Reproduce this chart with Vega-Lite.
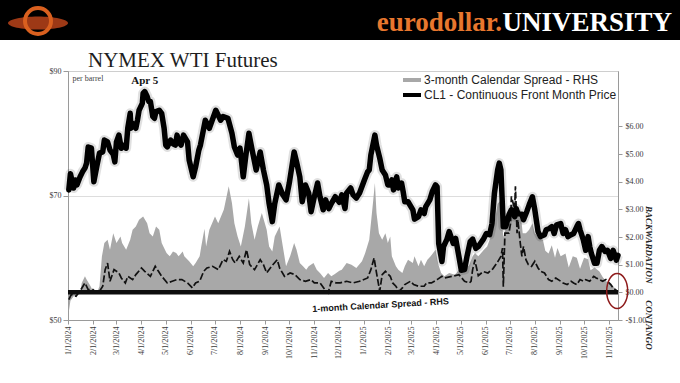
{
  "$schema": "https://vega.github.io/schema/vega-lite/v6.json",
  "padding": 0,
  "background": "white",
  "width": 550,
  "height": 249,
  "config": {
    "view": {"stroke": "#b5b5b5"},
    "axis": {"domainColor": "#9a9a9a", "tickColor": "#9a9a9a", "labelFont": "Liberation Serif", "labelFontSize": 8, "labelColor": "#3a3a3a", "labelOverlap": false}
  },
  "datasets": {
    "cl1": [
      {"date":"2024-01-02","price":70.9},{"date":"2024-01-04","price":73.5},{"date":"2024-01-08","price":71.2},{"date":"2024-01-10","price":72.5},{"date":"2024-01-12","price":71.7},{"date":"2024-01-16","price":73.0},{"date":"2024-01-19","price":73.8},{"date":"2024-01-22","price":74.4},{"date":"2024-01-24","price":75.2},{"date":"2024-01-26","price":77.8},{"date":"2024-01-30","price":77.6},
      {"date":"2024-02-02","price":72.2},{"date":"2024-02-06","price":74.9},{"date":"2024-02-09","price":76.8},{"date":"2024-02-13","price":77.0},{"date":"2024-02-15","price":78.9},{"date":"2024-02-19","price":78.6},{"date":"2024-02-22","price":77.3},{"date":"2024-02-26","price":76.6},{"date":"2024-02-28","price":75.4},
      {"date":"2024-03-01","price":78.6},{"date":"2024-03-04","price":79.7},{"date":"2024-03-07","price":77.6},{"date":"2024-03-11","price":78.1},{"date":"2024-03-13","price":77.6},{"date":"2024-03-15","price":80.8},{"date":"2024-03-18","price":83.2},{"date":"2024-03-19","price":80.8},{"date":"2024-03-21","price":81.6},{"date":"2024-03-25","price":80.8},{"date":"2024-03-27","price":82.1},{"date":"2024-03-29","price":83.7},
      {"date":"2024-04-02","price":84.8},{"date":"2024-04-03","price":86.4},{"date":"2024-04-05","price":86.7},{"date":"2024-04-08","price":85.9},{"date":"2024-04-10","price":85.1},{"date":"2024-04-12","price":85.1},{"date":"2024-04-15","price":82.7},{"date":"2024-04-17","price":82.4},{"date":"2024-04-19","price":83.5},{"date":"2024-04-23","price":83.7},{"date":"2024-04-26","price":83.2},{"date":"2024-04-29","price":80.8},
      {"date":"2024-05-01","price":78.1},{"date":"2024-05-03","price":77.8},{"date":"2024-05-07","price":78.9},{"date":"2024-05-10","price":78.3},{"date":"2024-05-13","price":78.1},{"date":"2024-05-15","price":79.7},{"date":"2024-05-17","price":78.6},{"date":"2024-05-20","price":78.1},{"date":"2024-05-23","price":79.7},{"date":"2024-05-28","price":78.6},{"date":"2024-05-30","price":75.7},
      {"date":"2024-06-04","price":73.0},{"date":"2024-06-07","price":74.6},{"date":"2024-06-11","price":77.3},{"date":"2024-06-13","price":78.1},{"date":"2024-06-19","price":82.1},{"date":"2024-06-24","price":80.8},
      {"date":"2024-07-02","price":83.7},{"date":"2024-07-08","price":82.1},{"date":"2024-07-11","price":82.7},{"date":"2024-07-17","price":82.4},{"date":"2024-07-22","price":80.0},{"date":"2024-07-25","price":77.8},{"date":"2024-07-29","price":76.5},
      {"date":"2024-08-01","price":77.6},{"date":"2024-08-05","price":73.0},{"date":"2024-08-08","price":76.2},{"date":"2024-08-12","price":80.0},{"date":"2024-08-16","price":77.3},{"date":"2024-08-21","price":74.1},{"date":"2024-08-26","price":77.0},{"date":"2024-08-30","price":74.1},
      {"date":"2024-09-03","price":71.7},{"date":"2024-09-06","price":68.7},{"date":"2024-09-10","price":65.8},{"date":"2024-09-13","price":68.7},{"date":"2024-09-18","price":71.7},{"date":"2024-09-23","price":70.1},{"date":"2024-09-27","price":69.3},
      {"date":"2024-10-01","price":72.0},{"date":"2024-10-07","price":77.0},{"date":"2024-10-10","price":75.4},{"date":"2024-10-14","price":73.0},{"date":"2024-10-17","price":69.0},{"date":"2024-10-21","price":71.7},{"date":"2024-10-25","price":70.4},{"date":"2024-10-28","price":67.4},
      {"date":"2024-11-01","price":69.8},{"date":"2024-11-05","price":72.0},{"date":"2024-11-08","price":69.8},{"date":"2024-11-12","price":67.7},{"date":"2024-11-15","price":69.3},{"date":"2024-11-19","price":67.9},{"date":"2024-11-22","price":68.7},{"date":"2024-11-27","price":69.8},
      {"date":"2024-12-02","price":68.9},{"date":"2024-12-05","price":70.1},{"date":"2024-12-09","price":67.9},{"date":"2024-12-11","price":70.4},{"date":"2024-12-16","price":71.2},{"date":"2024-12-19","price":70.1},{"date":"2024-12-23","price":69.6},{"date":"2024-12-27","price":70.4},
      {"date":"2025-01-02","price":72.5},{"date":"2025-01-06","price":73.8},{"date":"2025-01-08","price":74.1},{"date":"2025-01-10","price":76.5},{"date":"2025-01-15","price":79.7},{"date":"2025-01-17","price":78.1},{"date":"2025-01-21","price":76.0},{"date":"2025-01-24","price":74.1},{"date":"2025-01-28","price":73.3},{"date":"2025-01-31","price":71.7},
      {"date":"2025-02-03","price":71.7},{"date":"2025-02-05","price":72.5},{"date":"2025-02-07","price":70.9},{"date":"2025-02-11","price":73.0},{"date":"2025-02-13","price":71.2},{"date":"2025-02-17","price":72.0},{"date":"2025-02-19","price":70.6},{"date":"2025-02-21","price":69.0},{"date":"2025-02-25","price":69.0},
      {"date":"2025-03-03","price":67.7},{"date":"2025-03-05","price":66.2},{"date":"2025-03-10","price":66.6},{"date":"2025-03-13","price":67.7},{"date":"2025-03-17","price":67.1},{"date":"2025-03-19","price":68.2},{"date":"2025-03-24","price":69.3},{"date":"2025-03-27","price":70.6},{"date":"2025-03-31","price":71.7},
      {"date":"2025-04-02","price":71.4},{"date":"2025-04-04","price":62.3},{"date":"2025-04-08","price":59.4},{"date":"2025-04-10","price":61.8},{"date":"2025-04-14","price":62.9},{"date":"2025-04-17","price":64.2},{"date":"2025-04-22","price":62.3},{"date":"2025-04-25","price":63.1},{"date":"2025-04-29","price":60.2},
      {"date":"2025-05-02","price":58.0},{"date":"2025-05-06","price":58.1},{"date":"2025-05-09","price":60.2},{"date":"2025-05-13","price":62.6},{"date":"2025-05-16","price":63.0},{"date":"2025-05-20","price":61.5},{"date":"2025-05-23","price":61.8},{"date":"2025-05-29","price":62.9},
      {"date":"2025-06-02","price":63.9},{"date":"2025-06-06","price":63.7},{"date":"2025-06-09","price":65.5},{"date":"2025-06-12","price":70.4},{"date":"2025-06-16","price":74.1},{"date":"2025-06-18","price":75.2},{"date":"2025-06-20","price":74.1},{"date":"2025-06-23","price":65.0},{"date":"2025-06-26","price":65.0},{"date":"2025-06-30","price":66.9},
      {"date":"2025-07-03","price":67.7},{"date":"2025-07-07","price":66.6},{"date":"2025-07-09","price":67.9},{"date":"2025-07-11","price":67.1},{"date":"2025-07-16","price":67.0},{"date":"2025-07-18","price":66.1},{"date":"2025-07-22","price":67.4},{"date":"2025-07-25","price":68.5},{"date":"2025-07-29","price":69.8},
      {"date":"2025-08-01","price":67.7},{"date":"2025-08-05","price":64.2},{"date":"2025-08-08","price":63.4},{"date":"2025-08-13","price":63.7},{"date":"2025-08-15","price":64.5},{"date":"2025-08-19","price":64.7},{"date":"2025-08-22","price":65.0},{"date":"2025-08-25","price":63.9},{"date":"2025-08-28","price":65.3},
      {"date":"2025-09-02","price":65.5},{"date":"2025-09-05","price":63.9},{"date":"2025-09-08","price":64.5},{"date":"2025-09-11","price":63.4},{"date":"2025-09-15","price":63.7},{"date":"2025-09-18","price":63.9},{"date":"2025-09-22","price":65.0},{"date":"2025-09-24","price":65.5},{"date":"2025-09-26","price":64.5},{"date":"2025-09-30","price":62.9},
      {"date":"2025-10-03","price":61.2},{"date":"2025-10-06","price":63.4},{"date":"2025-10-08","price":61.8},{"date":"2025-10-10","price":60.7},{"date":"2025-10-14","price":59.1},{"date":"2025-10-17","price":59.1},{"date":"2025-10-20","price":61.2},{"date":"2025-10-23","price":61.8},{"date":"2025-10-27","price":61.0},{"date":"2025-10-30","price":61.2},
      {"date":"2025-11-03","price":59.9},{"date":"2025-11-06","price":61.2},{"date":"2025-11-10","price":59.6},{"date":"2025-11-12","price":60.4}
    ],
    "spread3": [
      {"date":"2024-01-02","s3":-0.7},{"date":"2024-01-04","s3":-0.3},{"date":"2024-01-08","s3":-0.14},{"date":"2024-01-12","s3":-0.1},{"date":"2024-01-16","s3":-0.05},{"date":"2024-01-18","s3":0.34},{"date":"2024-01-22","s3":0.58},{"date":"2024-01-24","s3":0.46},{"date":"2024-01-29","s3":0.22},
      {"date":"2024-02-01","s3":0.04},{"date":"2024-02-06","s3":0.0},{"date":"2024-02-09","s3":0.22},{"date":"2024-02-12","s3":1.3},{"date":"2024-02-15","s3":1.78},{"date":"2024-02-19","s3":1.9},{"date":"2024-02-22","s3":1.54},{"date":"2024-02-26","s3":2.14},
      {"date":"2024-03-01","s3":1.78},{"date":"2024-03-06","s3":2.02},{"date":"2024-03-08","s3":1.78},{"date":"2024-03-13","s3":1.54},{"date":"2024-03-18","s3":1.9},{"date":"2024-03-21","s3":2.26},{"date":"2024-03-25","s3":2.38},{"date":"2024-03-29","s3":2.62},
      {"date":"2024-04-03","s3":2.74},{"date":"2024-04-08","s3":2.5},{"date":"2024-04-11","s3":2.14},{"date":"2024-04-15","s3":2.02},{"date":"2024-04-19","s3":2.38},{"date":"2024-04-23","s3":2.26},{"date":"2024-04-26","s3":1.78},
      {"date":"2024-05-02","s3":1.42},{"date":"2024-05-06","s3":1.3},{"date":"2024-05-10","s3":1.48},{"date":"2024-05-14","s3":1.42},{"date":"2024-05-17","s3":1.3},{"date":"2024-05-22","s3":1.48},{"date":"2024-05-24","s3":1.3},{"date":"2024-05-30","s3":1.12},
      {"date":"2024-06-04","s3":0.94},{"date":"2024-06-07","s3":1.06},{"date":"2024-06-12","s3":1.3},{"date":"2024-06-14","s3":1.66},{"date":"2024-06-18","s3":2.3},{"date":"2024-06-20","s3":1.66},{"date":"2024-06-24","s3":2.26},
      {"date":"2024-07-01","s3":2.74},{"date":"2024-07-05","s3":2.5},{"date":"2024-07-12","s3":2.99},{"date":"2024-07-18","s3":3.83},{"date":"2024-07-22","s3":3.23},{"date":"2024-07-25","s3":2.5},{"date":"2024-07-29","s3":2.02},
      {"date":"2024-08-02","s3":1.66},{"date":"2024-08-07","s3":2.38},{"date":"2024-08-12","s3":3.4},{"date":"2024-08-15","s3":2.5},{"date":"2024-08-19","s3":1.9},{"date":"2024-08-23","s3":2.38},{"date":"2024-08-28","s3":2.87},
      {"date":"2024-09-03","s3":2.26},{"date":"2024-09-06","s3":1.66},{"date":"2024-09-10","s3":1.48},{"date":"2024-09-13","s3":2.02},{"date":"2024-09-19","s3":2.38},{"date":"2024-09-23","s3":1.66},{"date":"2024-09-27","s3":0.94},
      {"date":"2024-10-02","s3":1.3},{"date":"2024-10-07","s3":1.78},{"date":"2024-10-10","s3":1.54},{"date":"2024-10-14","s3":1.06},{"date":"2024-10-18","s3":0.94},{"date":"2024-10-22","s3":0.82},{"date":"2024-10-25","s3":0.94},{"date":"2024-10-31","s3":1.06},
      {"date":"2024-11-04","s3":0.82},{"date":"2024-11-08","s3":0.7},{"date":"2024-11-13","s3":0.52},{"date":"2024-11-18","s3":0.7},{"date":"2024-11-22","s3":0.58},{"date":"2024-11-26","s3":0.65},
      {"date":"2024-12-02","s3":0.78},{"date":"2024-12-05","s3":0.82},{"date":"2024-12-11","s3":1.06},{"date":"2024-12-17","s3":1.0},{"date":"2024-12-23","s3":0.88},{"date":"2024-12-30","s3":1.12},
      {"date":"2025-01-03","s3":1.42},{"date":"2025-01-08","s3":1.9},{"date":"2025-01-13","s3":3.35},{"date":"2025-01-15","s3":3.95},{"date":"2025-01-17","s3":2.87},{"date":"2025-01-20","s3":2.14},{"date":"2025-01-24","s3":1.9},{"date":"2025-01-28","s3":2.14},{"date":"2025-01-31","s3":1.78},
      {"date":"2025-02-03","s3":2.02},{"date":"2025-02-05","s3":1.3},{"date":"2025-02-10","s3":0.94},{"date":"2025-02-13","s3":0.82},{"date":"2025-02-18","s3":0.7},{"date":"2025-02-21","s3":0.94},{"date":"2025-02-25","s3":1.18},
      {"date":"2025-03-03","s3":1.06},{"date":"2025-03-05","s3":1.3},{"date":"2025-03-10","s3":0.94},{"date":"2025-03-13","s3":1.18},{"date":"2025-03-17","s3":0.94},{"date":"2025-03-21","s3":1.18},{"date":"2025-03-25","s3":1.3},{"date":"2025-03-31","s3":1.54},
      {"date":"2025-04-03","s3":1.06},{"date":"2025-04-07","s3":0.7},{"date":"2025-04-11","s3":0.58},{"date":"2025-04-17","s3":0.7},{"date":"2025-04-24","s3":0.64},
      {"date":"2025-05-01","s3":0.88},{"date":"2025-05-07","s3":0.82},{"date":"2025-05-12","s3":1.0},{"date":"2025-05-16","s3":1.3},{"date":"2025-05-19","s3":1.42},{"date":"2025-05-23","s3":1.3},{"date":"2025-05-30","s3":1.54},
      {"date":"2025-06-03","s3":1.66},{"date":"2025-06-09","s3":2.14},{"date":"2025-06-12","s3":2.5},{"date":"2025-06-16","s3":3.2},{"date":"2025-06-19","s3":3.3},{"date":"2025-06-23","s3":2.0},{"date":"2025-06-26","s3":2.3},
      {"date":"2025-07-01","s3":2.8},{"date":"2025-07-03","s3":3.1},{"date":"2025-07-08","s3":3.4},{"date":"2025-07-11","s3":2.9},{"date":"2025-07-14","s3":2.99},{"date":"2025-07-17","s3":2.14},{"date":"2025-07-21","s3":2.14},{"date":"2025-07-25","s3":2.26},{"date":"2025-07-29","s3":2.5},
      {"date":"2025-08-01","s3":2.14},{"date":"2025-08-06","s3":2.02},{"date":"2025-08-11","s3":1.9},{"date":"2025-08-14","s3":1.5},{"date":"2025-08-18","s3":1.4},{"date":"2025-08-22","s3":1.7},{"date":"2025-08-26","s3":1.25},{"date":"2025-08-29","s3":1.6},
      {"date":"2025-09-02","s3":1.3},{"date":"2025-09-08","s3":1.4},{"date":"2025-09-12","s3":0.9},{"date":"2025-09-17","s3":1.3},{"date":"2025-09-22","s3":1.25},{"date":"2025-09-26","s3":0.85},
      {"date":"2025-10-01","s3":1.25},{"date":"2025-10-06","s3":1.2},{"date":"2025-10-09","s3":0.8},{"date":"2025-10-14","s3":0.9},{"date":"2025-10-20","s3":0.75},{"date":"2025-10-24","s3":0.55},{"date":"2025-10-28","s3":0.4},
      {"date":"2025-11-03","s3":0.34},{"date":"2025-11-07","s3":0.18},{"date":"2025-11-12","s3":0.05}
    ],
    "spread1": [
      {"date":"2024-01-02","s1":-0.26},{"date":"2024-01-05","s1":-0.08},{"date":"2024-01-11","s1":-0.14},{"date":"2024-01-17","s1":0.1},{"date":"2024-01-22","s1":0.34},{"date":"2024-01-26","s1":0.1},
      {"date":"2024-02-01","s1":0.1},{"date":"2024-02-05","s1":-0.02},{"date":"2024-02-09","s1":0.04},{"date":"2024-02-13","s1":0.22},{"date":"2024-02-16","s1":0.82},{"date":"2024-02-19","s1":1.06},{"date":"2024-02-22","s1":0.4},{"date":"2024-02-27","s1":0.82},
      {"date":"2024-03-04","s1":0.7},{"date":"2024-03-07","s1":0.52},{"date":"2024-03-12","s1":0.34},{"date":"2024-03-15","s1":0.58},{"date":"2024-03-21","s1":0.46},{"date":"2024-03-25","s1":0.64},
      {"date":"2024-04-01","s1":0.88},{"date":"2024-04-05","s1":0.76},{"date":"2024-04-12","s1":0.58},{"date":"2024-04-18","s1":0.94},{"date":"2024-04-22","s1":0.76},{"date":"2024-04-26","s1":0.58},
      {"date":"2024-05-03","s1":0.34},{"date":"2024-05-09","s1":0.4},{"date":"2024-05-15","s1":0.46},{"date":"2024-05-21","s1":0.46},{"date":"2024-05-28","s1":0.34},
      {"date":"2024-06-03","s1":0.16},{"date":"2024-06-07","s1":0.34},{"date":"2024-06-12","s1":0.4},{"date":"2024-06-17","s1":0.76},{"date":"2024-06-21","s1":0.88},{"date":"2024-06-28","s1":0.94},
      {"date":"2024-07-05","s1":0.82},{"date":"2024-07-11","s1":1.18},{"date":"2024-07-15","s1":1.12},{"date":"2024-07-19","s1":1.48},{"date":"2024-07-23","s1":1.18},{"date":"2024-07-26","s1":1.06},{"date":"2024-07-31","s1":1.3},
      {"date":"2024-08-05","s1":1.06},{"date":"2024-08-09","s1":1.54},{"date":"2024-08-13","s1":1.0},{"date":"2024-08-19","s1":0.82},{"date":"2024-08-26","s1":1.18},{"date":"2024-08-30","s1":1.0},
      {"date":"2024-09-03","s1":0.7},{"date":"2024-09-09","s1":0.94},{"date":"2024-09-16","s1":1.18},{"date":"2024-09-19","s1":0.88},{"date":"2024-09-25","s1":0.58},
      {"date":"2024-10-02","s1":0.7},{"date":"2024-10-08","s1":0.64},{"date":"2024-10-14","s1":0.46},{"date":"2024-10-21","s1":0.4},{"date":"2024-10-28","s1":0.46},
      {"date":"2024-11-01","s1":0.34},{"date":"2024-11-08","s1":0.34},{"date":"2024-11-14","s1":0.1},{"date":"2024-11-18","s1":-0.02},{"date":"2024-11-22","s1":0.4},{"date":"2024-11-28","s1":0.34},
      {"date":"2024-12-03","s1":0.34},{"date":"2024-12-11","s1":0.4},{"date":"2024-12-19","s1":0.34},{"date":"2024-12-27","s1":0.4},
      {"date":"2025-01-06","s1":0.52},{"date":"2025-01-10","s1":0.82},{"date":"2025-01-14","s1":1.24},{"date":"2025-01-17","s1":0.7},{"date":"2025-01-21","s1":0.04},{"date":"2025-01-24","s1":0.64},{"date":"2025-01-28","s1":0.76},
      {"date":"2025-02-03","s1":0.58},{"date":"2025-02-06","s1":0.34},{"date":"2025-02-10","s1":0.22},{"date":"2025-02-14","s1":0.04},{"date":"2025-02-18","s1":0.16},{"date":"2025-02-21","s1":0.28},{"date":"2025-02-28","s1":0.4},
      {"date":"2025-03-04","s1":0.28},{"date":"2025-03-10","s1":0.22},{"date":"2025-03-17","s1":0.22},{"date":"2025-03-20","s1":0.34},{"date":"2025-03-26","s1":0.34},
      {"date":"2025-04-02","s1":0.46},{"date":"2025-04-08","s1":0.58},{"date":"2025-04-11","s1":0.52},{"date":"2025-04-21","s1":0.58},{"date":"2025-04-29","s1":0.64},
      {"date":"2025-05-06","s1":0.4},{"date":"2025-05-12","s1":0.34},{"date":"2025-05-14","s1":0.4},{"date":"2025-05-16","s1":0.82},{"date":"2025-05-19","s1":1.18},{"date":"2025-05-20","s1":1.0},{"date":"2025-05-23","s1":0.6},{"date":"2025-05-29","s1":0.75},
      {"date":"2025-06-04","s1":0.7},{"date":"2025-06-10","s1":0.85},{"date":"2025-06-16","s1":1.1},{"date":"2025-06-20","s1":1.3},{"date":"2025-06-22","s1":1.6},{"date":"2025-06-23","s1":0.2},{"date":"2025-06-25","s1":2.14},{"date":"2025-06-30","s1":2.14},
      {"date":"2025-07-02","s1":2.5},{"date":"2025-07-03","s1":3.47},{"date":"2025-07-07","s1":3.0},{"date":"2025-07-08","s1":3.83},{"date":"2025-07-10","s1":2.14},{"date":"2025-07-11","s1":2.62},{"date":"2025-07-14","s1":1.78},{"date":"2025-07-16","s1":1.3},{"date":"2025-07-18","s1":1.66},{"date":"2025-07-21","s1":1.18},{"date":"2025-07-24","s1":1.0},{"date":"2025-07-28","s1":0.94},
      {"date":"2025-08-01","s1":1.12},{"date":"2025-08-05","s1":0.88},{"date":"2025-08-08","s1":0.76},{"date":"2025-08-13","s1":0.7},{"date":"2025-08-18","s1":0.46},{"date":"2025-08-22","s1":0.4},{"date":"2025-08-27","s1":0.52},
      {"date":"2025-09-02","s1":0.4},{"date":"2025-09-05","s1":0.34},{"date":"2025-09-10","s1":0.28},{"date":"2025-09-15","s1":0.4},{"date":"2025-09-18","s1":0.34},{"date":"2025-09-22","s1":0.28},{"date":"2025-09-26","s1":0.46},{"date":"2025-09-30","s1":0.4},
      {"date":"2025-10-03","s1":0.46},{"date":"2025-10-08","s1":0.4},{"date":"2025-10-13","s1":0.58},{"date":"2025-10-16","s1":0.52},{"date":"2025-10-20","s1":0.46},{"date":"2025-10-24","s1":0.4},{"date":"2025-10-28","s1":0.46},
      {"date":"2025-11-03","s1":0.28},{"date":"2025-11-06","s1":0.16},{"date":"2025-11-12","s1":0.02}
    ],
    "notes": [
      {"label":"1-month Calendar Spread - RHS","date":"2025-01-22","s":-0.46},
      {"label":"BACKWARDATION","date":"2025-12-21","s":1.72},
      {"label":"CONTANGO","date":"2025-12-21","s":-1.18}
    ],
    "peak": [{"label":"Apr 5","date":"2024-04-05","price":86.7}],
    "ring": [{"date":"2025-11-11","s":0.05}]
  },
  "layer": [
    {
      "data": {"values": [{}]},
      "layer": [
        {"mark": {"type": "rect", "x": -68, "x2": 612, "y": -71, "y2": -31, "color": "#000000", "clip": false}, "encoding": {}},
        {"mark": {"type": "point", "x": -30, "y": -48, "shape": "M-1,0A1,0.22 0 1,0 1,0A1,0.22 0 1,0 -1,0Z", "size": 3600, "filled": true, "color": "#b8431a", "opacity": 0.85, "clip": false}, "encoding": {}},
        {"mark": {"type": "arc", "x": -30, "y": -50, "innerRadius": 11, "outerRadius": 15, "theta": 6.2832, "color": "#d9601f", "clip": false}, "encoding": {}},
        {"mark": {"type": "text", "text": "UNIVERSITY", "x": 604, "y": -40, "align": "right", "baseline": "alphabetic", "font": "Liberation Serif", "fontSize": 27, "fontWeight": "bold", "color": "#ffffff", "clip": false}, "encoding": {}},
        {"mark": {"type": "text", "text": "eurodollar.", "x": 434, "y": -40, "align": "right", "baseline": "alphabetic", "font": "Liberation Serif", "fontSize": 27, "fontWeight": "bold", "color": "#e8772e", "clip": false}, "encoding": {}},
        {"mark": {"type": "text", "text": "NYMEX WTI Futures", "x": 20, "y": -4, "align": "left", "baseline": "alphabetic", "font": "Liberation Serif", "fontSize": 21, "color": "#1e1e1e", "clip": false}, "encoding": {}}
      ]
    },
    {
      "layer": [
        {
          "data": {"name": "spread3"},
          "mark": {"type": "area"},
          "encoding": {
            "x": {"field": "date", "type": "temporal", "scale": {"domain": [{"year": 2024, "month": 1, "date": 1}, {"year": 2025, "month": 11, "date": 12}]}, "axis": {"title": null, "format": "%-m/%-d/%Y", "labelAngle": 270, "tickCount": {"interval": "month", "step": 1}, "labelFlush": false, "labelOverlap": false, "grid": false, "tickSize": 4, "labelPadding": 2}},
            "y": {"field": "s3", "type": "quantitative", "scale": {"domain": [-1, 8], "nice": false, "zero": false}, "axis": {"orient": "right", "title": null, "values": [-1, 0, 1, 2, 3, 4, 5, 6], "tickCount": 20, "labelExpr": "(datum.value < 0 ? '-' : '') + '$' + format(abs(datum.value), '.2f')", "grid": false, "tickSize": 4, "labelPadding": 3, "labelFlush": false, "labelOverlap": false}},
            "color": {"datum": "3-month Calendar Spread - RHS", "type": "nominal", "scale": {"domain": ["3-month Calendar Spread - RHS", "CL1 - Continuous Front Month Price"], "range": ["#a8a8a8", "#000000"]}, "legend": {"title": null, "orient": "none", "legendX": 335, "legendY": 0, "symbolType": "M-1,-0.22H1V0.22H-1Z", "symbolSize": 324, "symbolStrokeWidth": 0, "labelFont": "Liberation Sans", "labelFontSize": 12, "labelColor": "#222222", "labelOffset": 3, "rowPadding": 0, "padding": 0, "labelLimit": 300, "encode": {"symbols": {"update": {"fill": {"scale": "color", "field": "value"}, "stroke": {"value": "transparent"}, "strokeWidth": {"value": 0}, "opacity": {"value": 1}}}}}}
          }
        },
        {
          "data": {"name": "spread1"},
          "mark": {"type": "line", "color": "#111111", "strokeWidth": 1.7, "strokeDash": [7, 2.5]},
          "encoding": {
            "x": {"field": "date", "type": "temporal", "scale": {"domain": [{"year": 2024, "month": 1, "date": 1}, {"year": 2025, "month": 11, "date": 12}]}, "axis": {"title": null}},
            "y": {"field": "s1", "type": "quantitative", "axis": {"title": null}}
          }
        },
        {
          "data": {"values": [{}]},
          "mark": {"type": "rule", "color": "#0d0d0d", "strokeWidth": 4.5},
          "encoding": {"y": {"datum": 0}}
        },
        {
          "data": {"name": "notes"},
          "transform": [{"filter": "datum.label == '1-month Calendar Spread - RHS'"}],
          "mark": {"type": "text", "angle": 356.7, "font": "Liberation Sans", "fontWeight": "bold", "fontSize": 9, "color": "#111111", "clip": false},
          "encoding": {
            "x": {"field": "date", "type": "temporal", "scale": {"domain": [{"year": 2024, "month": 1, "date": 1}, {"year": 2025, "month": 11, "date": 12}]}, "axis": {"title": null}},
            "y": {"field": "s", "type": "quantitative", "axis": {"title": null}},
            "text": {"field": "label"}
          }
        },
        {
          "data": {"name": "notes"},
          "transform": [{"filter": "datum.label != '1-month Calendar Spread - RHS'"}],
          "mark": {"type": "text", "angle": 90, "font": "Liberation Serif", "fontStyle": "italic", "fontWeight": "bold", "fontSize": 9, "color": "#222222", "clip": false},
          "encoding": {
            "x": {"field": "date", "type": "temporal", "scale": {"domain": [{"year": 2024, "month": 1, "date": 1}, {"year": 2025, "month": 11, "date": 12}]}, "axis": {"title": null}},
            "y": {"field": "s", "type": "quantitative", "axis": {"title": null}},
            "text": {"field": "label"}
          }
        },
        {
          "data": {"name": "ring"},
          "mark": {"type": "point", "shape": "M-0.6,0A0.6,1 0 1,0 0.6,0A0.6,1 0 1,0 -0.6,0Z", "size": 1225, "filled": false, "stroke": "#8e1b1b", "strokeWidth": 1.5, "opacity": 1, "clip": false},
          "encoding": {
            "x": {"field": "date", "type": "temporal", "scale": {"domain": [{"year": 2024, "month": 1, "date": 1}, {"year": 2025, "month": 11, "date": 12}]}, "axis": {"title": null}},
            "y": {"field": "s", "type": "quantitative", "axis": {"title": null}}
          }
        }
      ]
    },
    {
      "layer": [
        {
          "data": {"name": "cl1"},
          "mark": {"type": "line", "color": "#000000", "strokeWidth": 10, "opacity": 0.12, "strokeJoin": "round"},
          "encoding": {
            "x": {"field": "date", "type": "temporal", "scale": {"domain": [{"year": 2024, "month": 1, "date": 1}, {"year": 2025, "month": 11, "date": 12}]}, "axis": {"title": null}},
            "y": {"field": "price", "type": "quantitative", "scale": {"domain": [50, 90], "nice": false, "zero": false}, "axis": {"orient": "left", "values": [50, 70, 90], "tickCount": 10, "labelExpr": "'$' + datum.value", "grid": true, "gridColor": "#d4d4d4", "gridWidth": 0.8, "tickSize": 5, "labelPadding": 2, "labelFlush": false, "labelOverlap": false, "title": "per barrel", "titleAngle": 0, "titleX": 4, "titleY": 7, "titleAlign": "left", "titleBaseline": "middle", "titleFont": "Liberation Serif", "titleFontSize": 8, "titleFontWeight": "normal", "titleColor": "#444444"}}
          }
        },
        {
          "data": {"name": "cl1"},
          "mark": {"type": "line", "strokeWidth": 5.5, "strokeJoin": "round", "strokeCap": "round"},
          "encoding": {
            "x": {"field": "date", "type": "temporal", "scale": {"domain": [{"year": 2024, "month": 1, "date": 1}, {"year": 2025, "month": 11, "date": 12}]}, "axis": {"title": null}},
            "y": {"field": "price", "type": "quantitative"},
            "color": {"datum": "CL1 - Continuous Front Month Price", "type": "nominal"}
          }
        },
        {
          "data": {"name": "peak"},
          "mark": {"type": "text", "dy": -11, "font": "Liberation Serif", "fontWeight": "bold", "fontSize": 11, "color": "#111111"},
          "encoding": {
            "x": {"field": "date", "type": "temporal", "scale": {"domain": [{"year": 2024, "month": 1, "date": 1}, {"year": 2025, "month": 11, "date": 12}]}, "axis": {"title": null}},
            "y": {"field": "price", "type": "quantitative"},
            "text": {"field": "label"}
          }
        }
      ]
    }
  ],
  "resolve": {"scale": {"y": "independent"}}
}
